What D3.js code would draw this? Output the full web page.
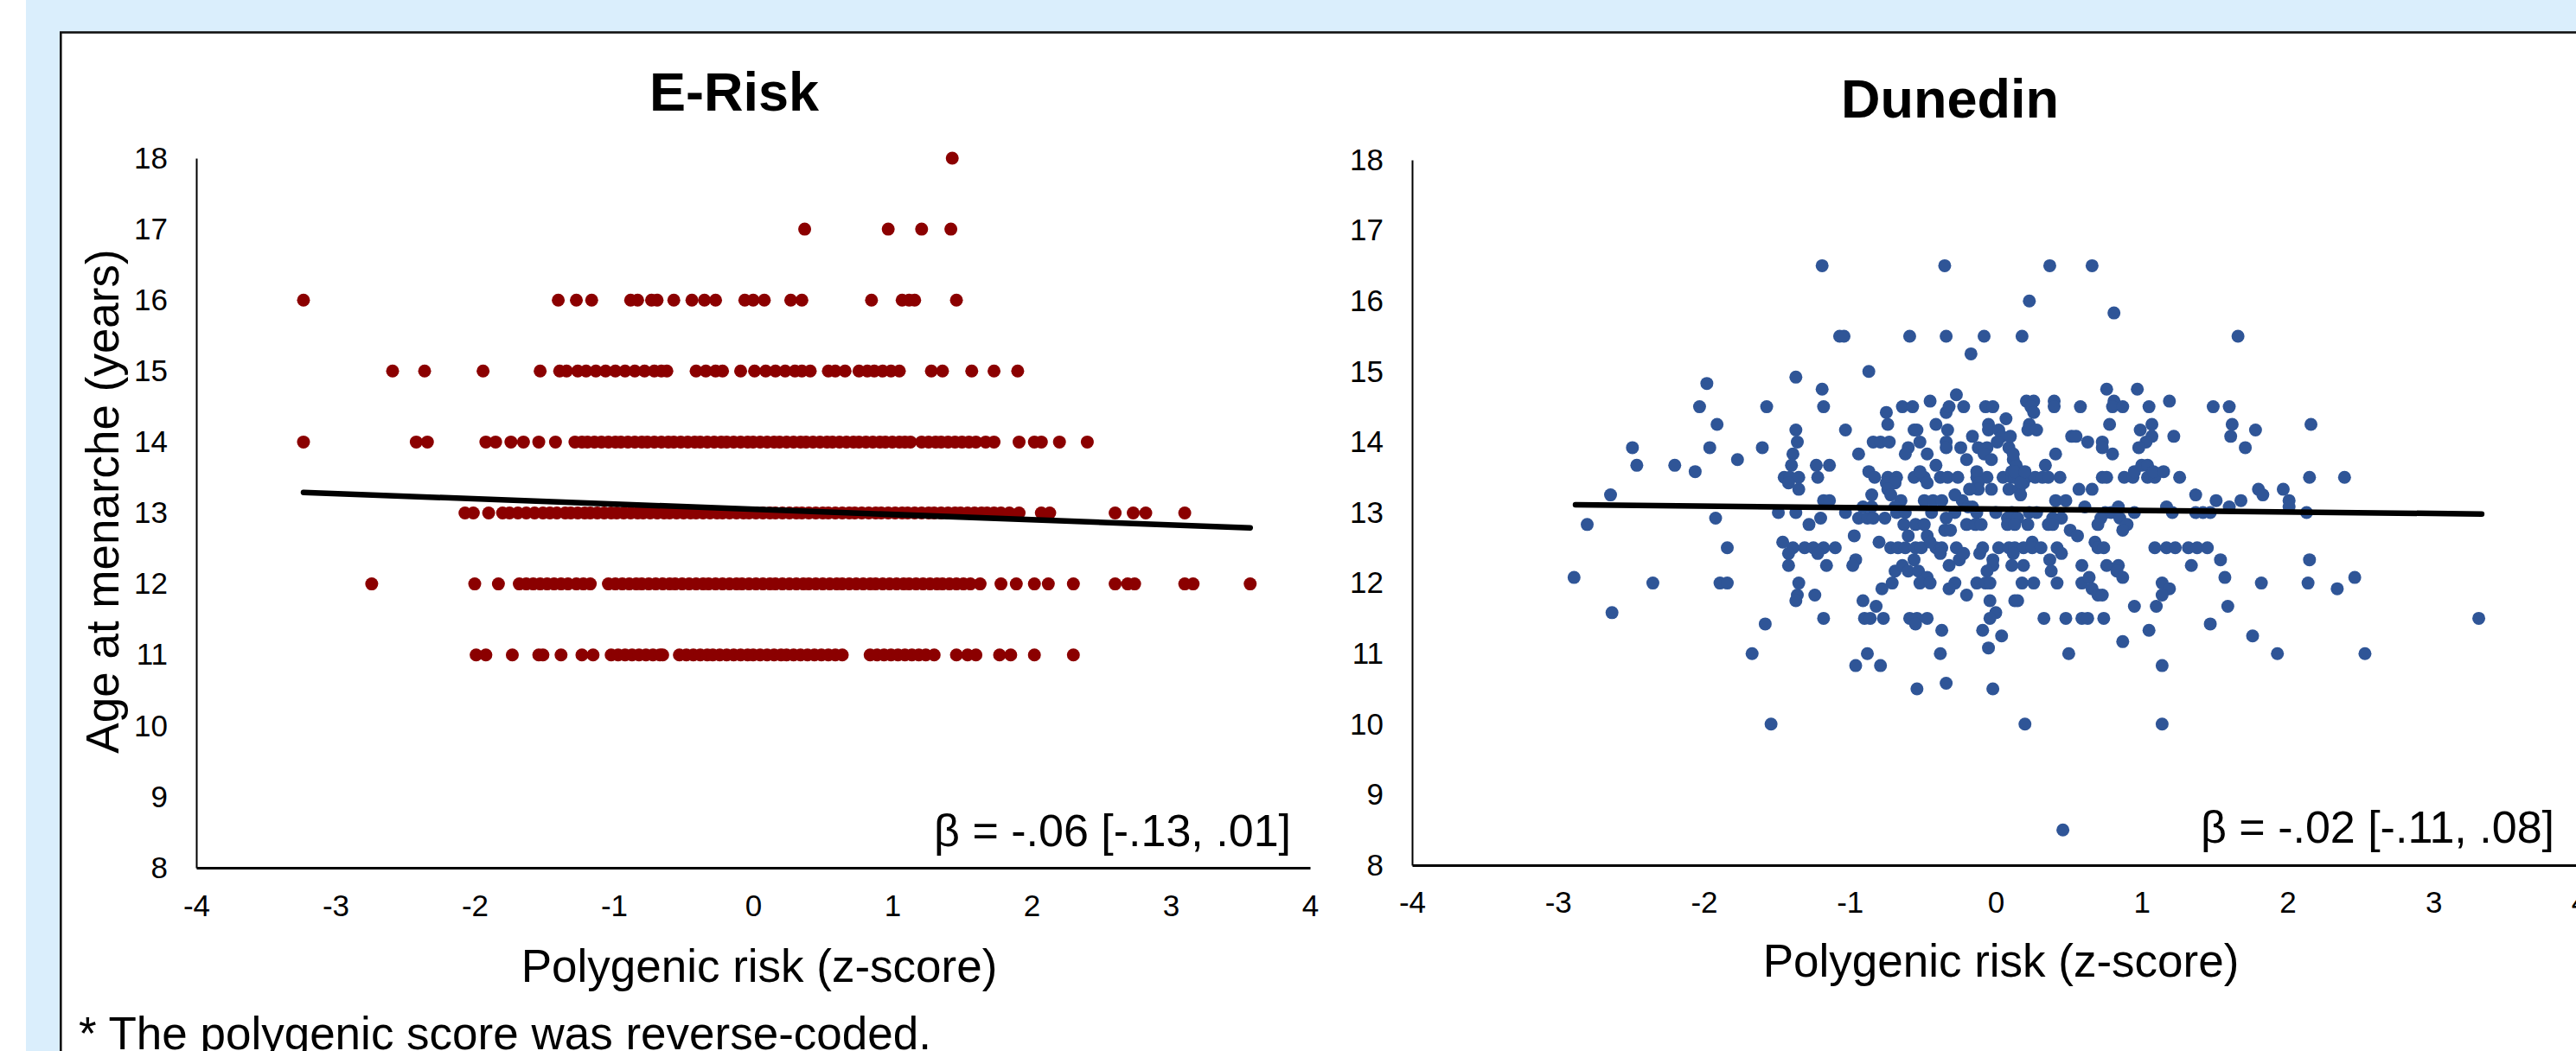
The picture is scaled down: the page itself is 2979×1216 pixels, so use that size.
<!DOCTYPE html>
<html>
<head>
<meta charset="utf-8">
<script src="https://cdn.jsdelivr.net/npm/d3@7"></script>
<style>
  body { margin: 0; background: #fff; }
  svg text { font-family: "Liberation Sans", Arial, sans-serif; fill: #000; }
</style>
</head>
<body>
<div id="chart"></div>
<script>
const W = 2979, H = 1216;

// Axis ticks
const xTicks = [-4, -3, -2, -1, 0, 1, 2, 3, 4];
const yTicks = [8, 9, 10, 11, 12, 13, 14, 15, 16, 17, 18];

// E-Risk: age at menarche is whole years, one array of polygenic z-scores per age
const erisk18 = [1.43];
const erisk17 = [0.37, 0.97, 1.21, 1.42];
const erisk16 = [-3.23, -1.40, -1.27, -1.16, -0.88, -0.83, -0.73, -0.69, -0.57, -0.44, -0.35, -0.27,
  -0.06, 0.00, 0.08, 0.27, 0.35, 0.85, 1.07, 1.12, 1.16, 1.46];
const erisk15 = [-2.59, -2.36, -1.94, -1.53, -1.39, -1.34, -1.26, -1.20, -1.13, -1.06, -0.99, -0.92,
  -0.85, -0.78, -0.71, -0.66, -0.62, -0.41, -0.34, -0.27, -0.22, -0.09, 0.01, 0.09, 0.16, 0.23,
  0.30, 0.35, 0.41, 0.54, 0.59, 0.66, 0.76, 0.82, 0.87, 0.93, 0.99, 1.05, 1.28, 1.36, 1.57, 1.73, 1.90];
const erisk14 = [-3.23, -2.42, -2.34, -1.92, -1.85, -1.74, -1.65, -1.54, -1.42, -1.28, -1.23, -1.19,
  -1.14, -1.09, -1.04, -0.99, -0.95, -0.90, -0.85, -0.80, -0.76, -0.71, -0.66, -0.61, -0.57, -0.52,
  -0.47, -0.42, -0.38, -0.33, -0.28, -0.23, -0.19, -0.14, -0.09, -0.04, 0.00, 0.05, 0.10, 0.15, 0.19,
  0.24, 0.29, 0.34, 0.38, 0.43, 0.48, 0.53, 0.57, 0.62, 0.67, 0.72, 0.76, 0.81, 0.86, 0.91, 0.95,
  1.00, 1.05, 1.09, 1.13, 1.21, 1.26, 1.31, 1.35, 1.40, 1.45, 1.50, 1.55, 1.60, 1.67, 1.73, 1.91,
  2.02, 2.07, 2.20, 2.40];
const erisk13 = [-2.07, -2.01, -1.90, -1.80, -1.75, -1.69, -1.63, -1.57, -1.51, -1.46, -1.41, -1.35,
  -1.31, -1.26, -1.21, -1.17, -1.12, -1.07, -1.02, -0.98, -0.93, -0.88, -0.83, -0.79, -0.74, -0.69,
  -0.64, -0.60, -0.55, -0.50, -0.45, -0.41, -0.36, -0.31, -0.26, -0.22, -0.17, -0.12, -0.07, -0.03,
  0.02, 0.07, 0.12, 0.16, 0.21, 0.26, 0.31, 0.35, 0.40, 0.45, 0.50, 0.54, 0.59, 0.64, 0.69, 0.73,
  0.78, 0.83, 0.88, 0.92, 0.97, 1.02, 1.07, 1.11, 1.16, 1.21, 1.26, 1.30, 1.35, 1.40, 1.45, 1.49,
  1.54, 1.59, 1.64, 1.68, 1.73, 1.78, 1.84, 1.91, 2.07, 2.13, 2.60, 2.73, 2.82, 3.10];
const erisk12 = [-2.74, -2.00, -1.83, -1.68, -1.63, -1.58, -1.53, -1.48, -1.43, -1.38, -1.33, -1.27,
  -1.22, -1.17, -1.04, -0.99, -0.94, -0.89, -0.84, -0.80, -0.75, -0.70, -0.65, -0.60, -0.56, -0.51,
  -0.46, -0.41, -0.36, -0.32, -0.27, -0.22, -0.17, -0.12, -0.08, -0.03, 0.02, 0.07, 0.12, 0.16, 0.21,
  0.26, 0.31, 0.36, 0.40, 0.45, 0.50, 0.55, 0.60, 0.64, 0.69, 0.74, 0.79, 0.84, 0.88, 0.93, 0.98,
  1.03, 1.08, 1.12, 1.17, 1.22, 1.27, 1.32, 1.36, 1.41, 1.46, 1.51, 1.56, 1.63, 1.78, 1.89, 2.02,
  2.12, 2.30, 2.60, 2.69, 2.74, 3.10, 3.16, 3.57];
const erisk11 = [-1.99, -1.92, -1.73, -1.54, -1.51, -1.38, -1.23, -1.15, -1.02, -0.97, -0.92, -0.87,
  -0.82, -0.77, -0.72, -0.67, -0.65, -0.53, -0.48, -0.43, -0.38, -0.33, -0.29, -0.24, -0.19, -0.14,
  -0.09, -0.04, 0.00, 0.05, 0.10, 0.15, 0.20, 0.24, 0.29, 0.34, 0.39, 0.44, 0.49, 0.54, 0.59, 0.64,
  0.84, 0.89, 0.94, 0.99, 1.04, 1.09, 1.14, 1.19, 1.24, 1.30, 1.46, 1.54, 1.60, 1.77, 1.85, 2.02, 2.30];
const eriskAges = [11, 12, 13, 14, 15, 16, 17, 18];
const eriskRows = [erisk11, erisk12, erisk13, erisk14, erisk15, erisk16, erisk17, erisk18];

// E-Risk fitted line: [z, age] at both ends
const eriskFit = [[-3.23, 13.29], [3.57, 12.79]];

// Dunedin: [polygenic z-score, age at menarche]
const dunedin = [
  [-1.19,16.5],[-0.35,16.5],[-1.07,15.5],[-1.04,15.5],[-0.59,15.5],[-0.34,15.5],[-0.08,15.5],
  [-0.17,15.25],[-0.87,15.0],[-1.37,14.92],[-1.98,14.83],[-1.19,14.75],
  [-2.03,14.5],[-1.57,14.5],[-1.18,14.5],[-1.91,14.25],[-1.37,14.17],[-1.03,14.17],
  [-2.49,13.92],[-1.96,13.92],[-1.60,13.92],[-1.36,14.0],
  [-2.46,13.67],[-2.20,13.67],[-2.06,13.58],[-1.77,13.75],[-1.39,13.83],[-1.40,13.67],[-1.23,13.67],[-1.14,13.67],
  [-1.45,13.5],[-1.41,13.5],[-1.35,13.5],[-1.42,13.42],[-1.35,13.33],[-1.22,13.5],
  [-2.64,13.25],[-1.18,13.17],[-1.14,13.17],[-2.80,12.83],[-1.92,12.92],
  [-1.49,13.0],[-1.37,13.0],[-1.20,12.92],[-1.28,12.83],[-1.03,13.0],
  [-0.94,13.83],[-0.87,13.58],[-0.83,13.5],[-0.84,14.0],[-0.79,14.0],[-0.73,14.0],
  [-0.75,14.42],[-0.74,14.25],[-0.64,14.5],[-0.57,14.5],[-0.45,14.58],[-0.27,14.67],
  [-0.34,14.42],[-0.32,14.5],[-0.22,14.5],[-0.07,14.5],[-0.02,14.5],[0.07,14.33],
  [-0.56,14.17],[-0.54,14.17],[-0.41,14.25],[-0.33,14.17],[-0.52,14.0],[-0.60,13.92],[-0.47,13.83],
  [-0.34,14.0],[-0.34,13.92],[-0.24,13.92],[-0.16,14.08],[-0.05,14.25],[-0.05,14.17],
  [0.02,14.17],[0.04,14.08],[0.01,14.0],[-0.12,13.92],[-0.06,13.92],[-0.08,13.83],[-0.03,13.75],[0.09,13.92],
  [-0.74,13.5],[-0.68,13.5],[-0.56,13.5],[-0.49,13.5],[-0.38,13.5],[-0.33,13.5],[-0.26,13.5],
  [-0.13,13.5],[-0.06,13.5],[0.05,13.5],[0.11,13.5],[-0.13,13.58],[0.11,13.58],
  [-0.75,13.42],[-0.69,13.42],[-0.47,13.42],[-0.12,13.42],
  [-0.74,13.33],[-0.12,13.33],[-0.03,13.33],[0.09,13.33],[-0.85,13.25],[-0.72,13.25],
  [-0.65,13.17],[-0.49,13.17],[-0.43,13.17],[-0.37,13.17],[-0.23,13.17],
  [-0.91,13.08],[-0.85,13.08],[-0.69,13.08],[-0.19,13.08],[-0.16,13.08],
  [-0.94,12.92],[-0.88,12.92],[-0.84,12.92],[-0.76,12.92],
  [-0.68,13.0],[-0.62,13.0],[-0.44,13.0],[-0.28,13.0],[-0.13,13.0],[0.00,13.0],
  [-0.63,12.83],[-0.55,12.83],[-0.49,12.83],[-0.34,12.92],[-0.35,12.75],[-0.31,12.75],
  [-0.20,12.83],[-0.14,12.83],[-0.10,12.83],[0.08,12.92],[0.08,12.83],
  [-0.97,12.67],[-0.60,12.67],[-0.47,12.67],[-1.46,12.58],
  [-1.39,12.5],[-1.31,12.5],[-1.25,12.5],[-1.18,12.5],[-1.10,12.5],[-0.72,12.5],[-0.67,12.5],
  [-0.62,12.5],[-0.55,12.5],[-0.51,12.5],[-0.41,12.5],[-0.37,12.5],[-0.27,12.5],[-0.09,12.5],
  [0.02,12.5],[0.09,12.5],[-1.84,12.5],
  [-1.42,12.42],[-1.22,12.42],[-0.96,12.33],[-0.56,12.33],[-0.38,12.42],[-0.11,12.42],[-0.02,12.33],[-0.25,12.33],
  [-1.42,12.25],[-1.16,12.25],[-0.98,12.25],[-0.32,12.25],[-0.02,12.25],[0.11,12.25],
  [-0.69,12.17],[-0.64,12.25],[-0.60,12.17],[-0.53,12.17],[-0.47,12.08],[-0.06,12.17],
  [-2.89,12.08],[-2.35,12.0],[-1.89,12.0],[-1.84,12.0],
  [-1.35,12.0],[-0.71,12.0],[-0.52,12.0],[-0.45,12.0],[-0.28,12.0],[-0.13,12.0],[-0.07,12.0],[-0.04,12.0],
  [-1.36,11.83],[-1.37,11.75],[-1.24,11.83],[-0.78,11.92],[-0.32,11.92],[-0.20,11.83],[0.13,11.75],
  [-2.63,11.58],[-1.58,11.42],[-1.18,11.5],
  [-0.91,11.75],[-0.82,11.67],[-0.90,11.5],[-0.86,11.5],[-0.77,11.5],[-0.59,11.5],[-0.54,11.5],
  [-0.47,11.5],[-0.55,11.42],[-0.37,11.33],[-0.04,11.75],[0.00,11.58],[-0.04,11.5],[-0.09,11.33],[0.04,11.25],
  [-1.67,11.0],[-0.88,11.0],[-0.96,10.83],[-0.79,10.83],[-0.38,11.0],[-0.05,11.08],
  [-0.54,10.5],[-0.34,10.58],[-0.02,10.5],
  [0.37,16.5],[0.66,16.5],[0.23,16.0],[0.81,15.83],[0.18,15.5],[1.66,15.5],
  [0.76,14.75],[0.97,14.75],
  [0.21,14.58],[0.26,14.58],[0.24,14.5],[0.26,14.42],[0.40,14.58],[0.40,14.5],[0.58,14.5],
  [0.81,14.58],[0.80,14.5],[0.87,14.5],[1.05,14.5],[1.19,14.58],[1.49,14.5],[1.60,14.5],
  [0.23,14.25],[0.22,14.17],[0.28,14.17],[0.78,14.25],[0.99,14.17],[1.07,14.25],[1.07,14.08],[1.03,14.0],
  [1.22,14.08],[1.62,14.25],[1.61,14.08],[1.78,14.17],[2.16,14.25],
  [0.52,14.08],[0.55,14.08],[0.63,14.0],[0.73,14.0],[0.73,13.92],[0.80,13.83],[0.98,13.92],
  [1.71,13.92],[0.41,13.83],[0.34,13.67],
  [0.13,13.5],[0.16,13.5],[0.19,13.5],[0.21,13.5],[0.27,13.5],[0.32,13.5],[0.36,13.5],[0.44,13.5],
  [0.73,13.5],[0.76,13.5],[0.88,13.5],[0.94,13.5],[1.04,13.5],[1.09,13.5],[1.26,13.5],[2.15,13.5],[2.39,13.5],
  [0.95,13.58],[1.00,13.67],[1.04,13.67],[1.08,13.58],[1.15,13.58],
  [0.16,13.33],[0.19,13.42],[0.17,13.25],[0.57,13.33],[0.66,13.33],[0.41,13.17],[0.48,13.17],
  [1.37,13.25],[1.51,13.17],[1.68,13.17],[1.80,13.33],[1.83,13.25],[1.97,13.33],[2.01,13.17],[2.01,13.08],
  [0.61,13.08],[0.84,13.08],[1.17,13.08],[1.60,13.08],
  [0.23,13.0],[0.28,13.0],[0.75,13.0],[0.79,13.0],[0.95,13.0],[1.21,13.0],[1.37,13.0],[1.42,13.0],[1.47,13.0],[2.13,13.0],
  [0.39,12.92],[0.45,12.92],[0.72,12.92],[0.85,12.92],
  [0.22,12.83],[0.36,12.83],[0.39,12.83],[0.70,12.83],[0.90,12.83],
  [0.51,12.75],[0.87,12.75],[0.56,12.67],[0.68,12.58],[0.25,12.58],
  [0.13,12.5],[0.19,12.5],[0.25,12.5],[0.31,12.5],[0.42,12.5],[0.70,12.5],[0.74,12.5],
  [1.09,12.5],[1.17,12.5],[1.23,12.5],[1.32,12.5],[1.38,12.5],[1.45,12.5],
  [0.45,12.42],[0.37,12.33],[1.54,12.33],[2.15,12.33],
  [0.19,12.25],[0.59,12.25],[0.76,12.25],[0.84,12.25],[1.34,12.25],
  [0.38,12.17],[0.83,12.17],[0.87,12.08],[1.57,12.08],[2.46,12.08],
  [0.18,12.0],[0.26,12.0],[0.42,12.0],[0.59,12.0],[0.64,12.08],[1.14,12.0],[1.82,12.0],[2.14,12.0],
  [0.66,11.92],[0.70,11.83],[0.73,11.83],[1.19,11.92],[1.14,11.83],[2.34,11.92],
  [0.15,11.75],[0.95,11.67],[1.10,11.67],[1.59,11.67],
  [0.33,11.5],[0.48,11.5],[0.59,11.5],[0.63,11.5],[0.74,11.5],[3.31,11.5],
  [1.47,11.42],[1.05,11.33],[1.76,11.25],[0.87,11.17],
  [0.50,11.0],[1.93,11.0],[2.53,11.0],[1.14,10.83],
  [-1.54,10.0],[0.20,10.0],[1.14,10.0],[0.46,8.5],
  // crowded middle of the cloud
  [0.12,13.75],[0.14,13.67],[0.13,13.58],[0.17,13.42],[0.20,13.58],[0.10,14.08],[0.12,13.83],
  [0.11,13.0],[0.15,12.92],[0.13,12.83],[0.12,12.42],[-0.18,13.33],[-0.28,13.25],[-0.52,13.58],
  [-0.41,13.67],[-0.20,13.75],[-0.62,13.83],[-0.45,12.58],[-0.22,12.42],[-0.80,12.58]
];

// Dunedin fitted line
const dunedinFit = [[-2.88, 13.11], [3.33, 12.98]];

const titles = ["E-Risk", "Dunedin"];
const betaLabels = ["\u03b2 = -.06 [-.13, .01]", "\u03b2 = -.02 [-.11, .08]"];
const xTitle = "Polygenic risk (z-score)";
const yTitle = "Age at menarche (years)";
const footnote = "* The polygenic score was reverse-coded.";

const eriskPoints = [];
eriskRows.forEach((row, i) => row.forEach(z => eriskPoints.push([z, eriskAges[i]])));

const svg = d3.select("#chart")
  .append("svg")
  .attr("width", W)
  .attr("height", H);

// page background and the framed white panel
svg.append("rect")
  .attr("x", 30).attr("y", 0)
  .attr("width", W - 30).attr("height", H)
  .attr("fill", "#daeefc");
svg.append("rect")
  .attr("x", 70.3).attr("y", 37.5)
  .attr("width", W + 100).attr("height", H + 100)
  .attr("fill", "#fff")
  .attr("stroke", "#111")
  .attr("stroke-width", 2.6);

function drawPanel(p) {
  const x = d3.scaleLinear().domain([-4, 4]).range([p.left, p.right]);
  const y = d3.scaleLinear().domain([8, 18]).range([p.bottom, p.top]);
  const g = svg.append("g");

  // y axis
  const yAxis = g.append("g")
    .attr("transform", `translate(${p.left},0)`)
    .call(d3.axisLeft(y).tickValues(yTicks).tickSize(0).tickSizeOuter(0)
      .tickPadding(33).tickFormat(d => String(d)));
  yAxis.select(".domain").attr("stroke", "#000").attr("stroke-width", 2);

  // x axis
  const xAxis = g.append("g")
    .attr("transform", `translate(0,${p.bottom})`)
    .call(d3.axisBottom(x).tickValues(xTicks).tickSize(0).tickSizeOuter(0)
      .tickPadding(p.xPad).tickFormat(d => String(d)));
  xAxis.select(".domain").attr("stroke", "#000").attr("stroke-width", 3);

  [yAxis, xAxis].forEach(a => a.attr("font-size", 35)
    .attr("font-family", '"Liberation Sans", Arial, sans-serif'));
  g.selectAll(".tick text").attr("fill", "#000");

  // points
  g.selectAll(".dot")
    .data(p.points)
    .enter()
    .append("circle")
    .attr("class", "dot")
    .attr("cx", d => x(d[0]))
    .attr("cy", d => y(d[1]))
    .attr("r", 7.5)
    .attr("fill", p.color);

  // fitted line
  g.append("path")
    .datum(p.fit)
    .attr("d", d3.line().x(d => x(d[0])).y(d => y(d[1])))
    .attr("stroke", "#000")
    .attr("stroke-width", 6.5)
    .attr("stroke-linecap", "round")
    .attr("fill", "none");

  // texts
  g.append("text")
    .attr("x", p.titleX).attr("y", p.titleY)
    .attr("text-anchor", "middle")
    .attr("font-size", 63).attr("font-weight", "bold")
    .text(p.title);

  g.append("text")
    .attr("x", p.betaX).attr("y", p.betaY)
    .attr("text-anchor", "end")
    .attr("font-size", 52)
    .text(p.beta);

  g.append("text")
    .attr("x", p.xTitleX).attr("y", p.xTitleY)
    .attr("text-anchor", "middle")
    .attr("font-size", 53)
    .text(xTitle);
}

drawPanel({
  left: 227, right: 1515, top: 183, bottom: 1004, xPad: 31.5,
  points: eriskPoints, fit: eriskFit, color: "#8b0000",
  title: titles[0], titleX: 849, titleY: 128,
  beta: betaLabels[0], betaX: 1493, betaY: 979,
  xTitleX: 878, xTitleY: 1136
});

drawPanel({
  left: 1633, right: 2983, top: 185, bottom: 1001, xPad: 30,
  points: dunedin, fit: dunedinFit, color: "#2f5597",
  title: titles[1], titleX: 2255, titleY: 136,
  beta: betaLabels[1], betaX: 2954, betaY: 975,
  xTitleX: 2314, xTitleY: 1130
});

// y axis title (left chart only)
svg.append("text")
  .attr("transform", "translate(137,580) rotate(-90)")
  .attr("text-anchor", "middle")
  .attr("font-size", 53)
  .text(yTitle);

// footnote
svg.append("text")
  .attr("x", 91).attr("y", 1214)
  .attr("font-size", 53)
  .text(footnote);
</script>
</body>
</html>
